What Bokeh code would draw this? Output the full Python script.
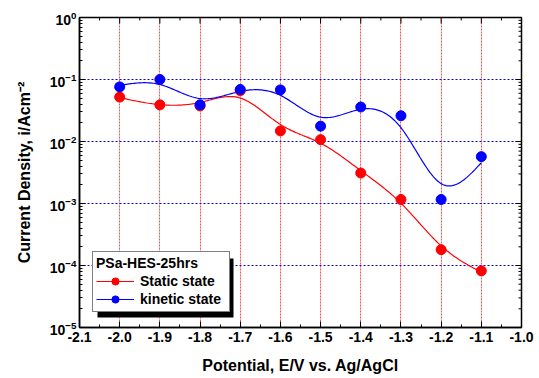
import numpy as np
from bokeh.plotting import figure
from bokeh.models import (Legend, LegendItem, FixedTicker, NumeralTickFormatter, Range1d, BoxAnnotation)
from bokeh.embed import file_html
from bokeh.resources import INLINE

# ---- data ----
potential = [-2.0, -1.9, -1.8, -1.7, -1.6, -1.5, -1.4, -1.3, -1.2, -1.1]
static_state = [0.052, 0.039, 0.0375, 0.066, 0.0148, 0.0107, 0.0031, 0.00116, 0.00018, 0.000082]
kinetic_state = [0.076, 0.100, 0.039, 0.069, 0.068, 0.0177, 0.036, 0.026, 0.00116, 0.0057]
x_ticks = [-2.1, -2.0, -1.9, -1.8, -1.7, -1.6, -1.5, -1.4, -1.3, -1.2, -1.1, -1.0]
y_decades = [-5, -4, -3, -2, -1, 0]
legend_title = "PSa-HES-25hrs"
series_labels = ["Static state", "kinetic state"]

FONT = "Liberation Sans"
X_START, X_END = x_ticks[0], x_ticks[-1]
Y_START, Y_END = 10.0 ** y_decades[0], 10.0 ** y_decades[-1]


def smooth_curve(xs, ys, lam=0.045, sub=25):
    """Cubic smoothing spline (penalised, in log10 space) through the data."""
    xs = np.asarray(xs, float)
    ly = np.log10(np.asarray(ys, float))
    n = len(xs)
    N = (n - 1) * sub + 1
    t = np.linspace(xs[0], xs[-1], N)
    w = np.zeros(N)
    z = np.zeros(N)
    idx = np.arange(n) * sub
    w[idx] = 1.0
    z[idx] = ly
    D = np.diff(np.eye(N), 2, axis=0)
    h = 1.0 / sub
    A = np.diag(w) + lam * (D.T @ D) / h ** 3
    f = np.linalg.solve(A, w * z)
    return t, 10 ** f


p = figure(width=539, height=378, x_range=Range1d(X_START, X_END), y_range=Range1d(Y_START, Y_END),
           y_axis_type="log", output_backend="svg", toolbar_location=None,
           min_border_left=79, min_border_right=18, min_border_top=17, min_border_bottom=51)
p.background_fill_color = "white"
p.border_fill_color = "white"
p.outline_line_color = "black"
p.outline_line_width = 1.5
p.outline_line_alpha = 1.0

minor_x = [round(a + 0.05, 2) for a in x_ticks[:-1]]
xax = p.xaxis[0]
yax = p.yaxis[0]
xax.ticker = FixedTicker(ticks=x_ticks, minor_ticks=minor_x)
xax.formatter = NumeralTickFormatter(format="0.0")

for ax in [xax, yax]:
    ax.major_tick_in = 6
    ax.major_tick_out = 0
    ax.minor_tick_in = 3
    ax.minor_tick_out = 0
    ax.axis_line_color = "black"
    ax.axis_line_width = 1.5
    ax.major_tick_line_color = "black"
    ax.minor_tick_line_color = "black"
    ax.major_label_text_font = FONT
    ax.major_label_text_font_style = "bold"
    ax.major_label_text_font_size = "14px"
    ax.major_label_text_color = "black"
    ax.axis_label_text_font = FONT
    ax.axis_label_text_font_style = "bold"
    ax.axis_label_text_font_size = "16px"
    ax.axis_label_text_color = "black"

xax.major_label_standoff = 4
yax.major_label_standoff = 3
xax.axis_label = "Potential, E/V vs. Ag/AgCl"
yax.axis_label = "Current Density, i/Acm\u207b\u00b2"
xax.axis_label_standoff = 12
yax.axis_label_standoff = 14

p.xgrid.ticker = FixedTicker(ticks=x_ticks)
p.xgrid.grid_line_color = "red"
p.xgrid.grid_line_alpha = 0.7
p.xgrid.grid_line_dash = "2 1"
p.xgrid.grid_line_width = 1
p.ygrid.grid_line_color = "blue"
p.ygrid.grid_line_dash = "2 2"
p.ygrid.grid_line_width = 1

# mirrored inward ticks on the top and right edges (half of each dash is clipped by the frame)
major_y = [10.0 ** k for k in y_decades]
minor_y = [m * 10.0 ** k for k in y_decades[:-1] for m in range(2, 10)]
p.scatter(x_ticks, [Y_END] * len(x_ticks), marker="dash", angle=np.pi / 2, size=12,
          line_color="black", line_width=1)
p.scatter(minor_x, [Y_END] * len(minor_x), marker="dash", angle=np.pi / 2, size=6,
          line_color="black", line_width=1)
p.scatter([X_END] * len(major_y), major_y, marker="dash", size=12, line_color="black", line_width=1)
p.scatter([X_END] * len(minor_y), minor_y, marker="dash", size=6, line_color="black", line_width=1)

sx, sy = smooth_curve(potential, static_state)
kx, ky = smooth_curve(potential, kinetic_state)

rl = p.line(sx, sy, line_color="red", line_width=1.2)
bl = p.line(kx, ky, line_color="blue", line_width=1.2)
rs = p.scatter(potential, static_state, marker="circle", size=10, fill_color="red", line_color="red")
bs = p.scatter(potential, kinetic_state, marker="circle", size=10, fill_color="blue", line_color="blue")

# legend geometry (screen px, measured from the frame's bottom-left corner)
LEG_X, LEG_Y = 13, 15
PAD, GLYPH_W, STANDOFF, LABEL_W = 3, 38, 6, 86
LEG_W = 2 * PAD + GLYPH_W + STANDOFF + LABEL_W
LEG_H = 59
SHADOW = 5

shadow = BoxAnnotation(left=LEG_X + SHADOW, right=LEG_X + LEG_W + SHADOW,
                       bottom=LEG_Y - SHADOW, top=LEG_Y + LEG_H - SHADOW,
                       left_units="screen", right_units="screen",
                       bottom_units="screen", top_units="screen",
                       fill_color="black", fill_alpha=1.0, line_color=None)
p.add_layout(shadow)

items = [LegendItem(label=series_labels[0], renderers=[rl, rs]),
         LegendItem(label=series_labels[1], renderers=[bl, bs])]
lg = Legend(items=items, location=(LEG_X, LEG_Y), title=legend_title)
lg.title_text_font = FONT
lg.title_text_font_style = "bold"
lg.title_text_font_size = "14px"
lg.title_text_color = "black"
lg.title_standoff = 1
lg.label_text_font = FONT
lg.label_text_font_style = "bold"
lg.label_text_font_size = "14px"
lg.label_text_color = "black"
lg.glyph_width = GLYPH_W
lg.glyph_height = 18
lg.label_height = 18
lg.label_width = LABEL_W
lg.label_standoff = STANDOFF
lg.spacing = 0
lg.padding = PAD
lg.margin = 0
lg.border_line_color = "black"
lg.border_line_width = 1.5
lg.background_fill_color = "white"
lg.background_fill_alpha = 1.0
p.add_layout(lg)

open("out.html", "w").write(file_html(p, INLINE))
